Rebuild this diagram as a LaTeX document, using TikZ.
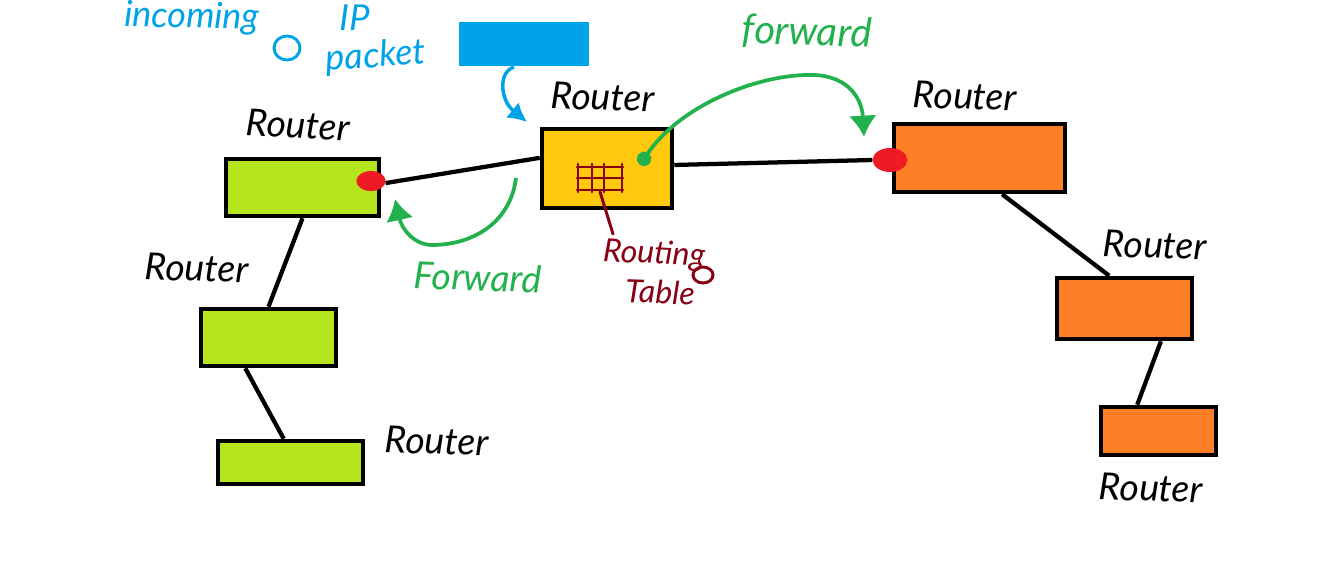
\documentclass[tikz,border=0pt]{standalone}
\usepackage{fontspec}
\setmainfont{Lato}
\usetikzlibrary{arrows.meta,shapes.geometric}
\definecolor{lime}{HTML}{B5E61D}
\definecolor{amber}{HTML}{FFC90E}
\definecolor{tangerine}{HTML}{FF7F27}
\definecolor{sky}{HTML}{00A2E8}
\definecolor{leaf}{HTML}{22B14C}
\definecolor{wine}{HTML}{880015}
\definecolor{dot}{HTML}{ED1C24}
\begin{document}
\begin{tikzpicture}[
 x=0.75pt,y=-0.75pt,
 box/.style 2 args={draw=black,line width=3.4pt,inner sep=0pt,minimum width=#1*0.75pt,minimum height=#2*0.75pt},
 port/.style={ellipse,fill=dot,inner sep=0pt,minimum width=22pt,minimum height=15pt},
 link/.style={line width=3.2pt,draw=black},
 lab/.style={font=\fontsize{28}{30}\selectfont\itshape,inner sep=0pt},
 note/.style={text=wine,font=\fontsize{24}{26}\selectfont\itshape,inner sep=0pt},
 hop/.style={-{Latex[length=16pt,width=21pt]},line width=2.8pt,draw=leaf},
 pen/.style={line width=2.2pt,draw=wine,line cap=round}
]
\useasboundingbox (0,0) rectangle (1341,560);
\node[box={153}{57},fill=lime] (greenA) at (302.5,187.5) {};
\node[box={135}{57},fill=lime] (greenB) at (268.5,337.5) {};
\node[box={145}{43},fill=lime] (greenC) at (290.5,462.5) {};
\node[box={130}{79},fill=amber] (core) at (607,168.5) {};
\node[box={171}{68},fill=tangerine] (orangeA) at (979.5,158) {};
\node[box={135}{61},fill=tangerine] (orangeB) at (1124.5,308.5) {};
\node[box={115}{48},fill=tangerine] (orangeC) at (1158.5,431) {};
\node[fill=sky,inner sep=0pt,minimum width=97.5pt,minimum height=33pt] (packet) at (524,44) {};
\node[port] (portA) at (371,181) {};
\node[port,minimum width=26pt,minimum height=18pt] (portB) at (890,160) {};
\draw[link] (portA.-8)--(core.171);
\draw[link] (core.3)--(portB.west);
\draw[link] (greenA.south)--(greenB.north);
\draw[link] (greenB.233)--(greenC.106);
\draw[link] (orangeA.302)--(orangeB.115);
\draw[link] (orangeB.318)--(orangeC.129);
\node[lab] (routerA) at (298,125) [rotate=-3] {Router};
\node[lab] (routerB) at (197,268) [rotate=-2] {Router};
\node[lab] (routerC) at (437,441) [rotate=-2] {Router};
\node[lab] (routerD) at (603,97) [rotate=-2] {Router};
\node[lab] (routerE) at (965,96) [rotate=-2] {Router};
\node[lab] (routerF) at (1155,245) [rotate=-2] {Router};
\node[lab] (routerG) at (1151,488) [rotate=-2] {Router};
\node[lab,text=sky,font=\fontsize{27}{29}\selectfont\itshape] (incoming) at (247,19) [rotate=-1] {incoming \hspace{2em}IP};
\node[lab,text=sky,font=\fontsize{27}{29}\selectfont\itshape] (packetlab) at (376,57) [rotate=4] {packet};
\draw[line width=2.2pt,draw=sky] (287,48) ellipse [x radius=13,y radius=12];
\node[lab,text=leaf,font=\fontsize{30}{32}\selectfont\itshape] (fwdtop) at (807,33) [rotate=-2] {forward};
\node[lab,text=leaf] (fwdlow) at (478,277) [rotate=-2] {Forward};
\node[note] (routing) at (654,255) [rotate=-3] {Routing};
\node[note] (tablelab) at (660,292) [rotate=-2] {Table};
\draw[pen] (703,275) ellipse [x radius=10,y radius=8];
\coordinate (dropA) at (514,67);
\coordinate (dropB) at (527,122);
\coordinate (backA) at (516,178);
\coordinate (backB) at (395,199);
\coordinate (overA) at (640,165);
\coordinate (overB) at (864,137);
\draw[-{Latex[length=14pt,width=15pt]},line width=2.6pt,draw=sky] (dropA) .. controls (498,72) and (500,100) .. (dropB);
\draw[hop] (backA) .. controls (510,225) and (470,245) .. (432,245) .. controls (415,245) and (402,230) .. (backB);
\draw[hop,{Circle[length=11pt]}-{Latex[length=16pt,width=21pt]}] (overA) .. controls (680,105) and (760,73) .. (815,75) .. controls (850,77) and (862,100) .. (overB);
\node[inner sep=0pt,minimum width=35pt,minimum height=21pt] (grid) at (600,177.5) {};
\foreach \gx in {578,592,604,622} \draw[pen] (\gx,164)--(\gx,192);
\foreach \gy in {167,178,190} \draw[pen] (577,\gy)--(623,\gy);
\coordinate (stem) at (613,234);
\draw[pen] (grid.south)--(stem);
\end{tikzpicture}
\end{document}
